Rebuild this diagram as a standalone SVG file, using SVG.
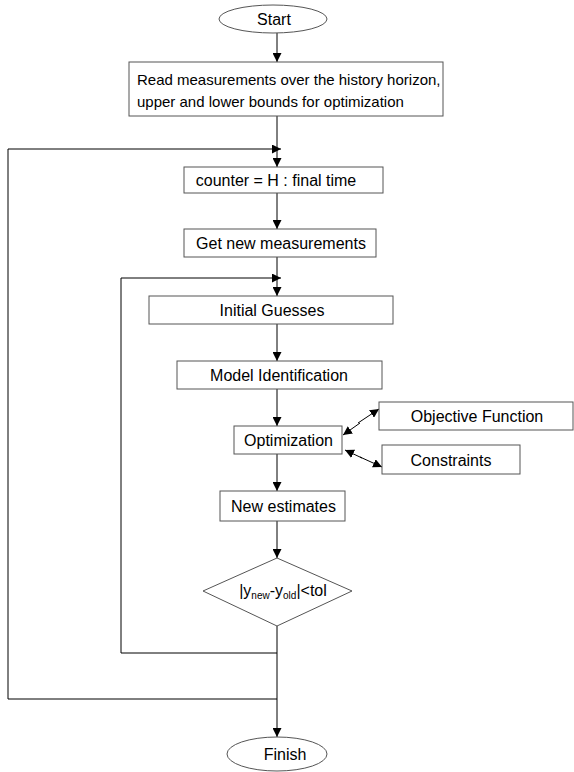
<svg xmlns="http://www.w3.org/2000/svg" width="574" height="772" viewBox="0 0 574 772">
<defs>
<style>
.box{fill:#fff;stroke:#555;stroke-width:1}
.ln{fill:none;stroke:#000;stroke-width:1}
.t{font-family:"Liberation Sans",Arial,sans-serif;font-size:16px;fill:#000;text-anchor:middle}
.tl{font-family:"Liberation Sans",Arial,sans-serif;font-size:15px;fill:#000}
</style>
<marker id="ah" viewBox="0 0 10 10" refX="10" refY="5" markerWidth="9" markerHeight="9" markerUnits="userSpaceOnUse" orient="auto">
<path d="M0,0 L10,5 L0,10 Z" fill="#000"/>
</marker>
</defs>
<rect width="574" height="772" fill="#fff"/>
<g id="connectors">
<line class="ln" x1="277" y1="33" x2="277" y2="62" marker-end="url(#ah)"/>
<line class="ln" x1="277" y1="116" x2="277" y2="167" marker-end="url(#ah)"/>
<polyline class="ln" points="277,699 8,699 8,149 281,149" marker-end="url(#ah)"/>
<line class="ln" x1="277" y1="193" x2="277" y2="229" marker-end="url(#ah)"/>
<line class="ln" x1="277" y1="257" x2="277" y2="296" marker-end="url(#ah)"/>
<polyline class="ln" points="277,653 121,653 121,278 281,278" marker-end="url(#ah)"/>
<line class="ln" x1="277" y1="324" x2="277" y2="361" marker-end="url(#ah)"/>
<line class="ln" x1="277" y1="389" x2="277" y2="426" marker-end="url(#ah)"/>
<line class="ln" x1="277" y1="454" x2="277" y2="491" marker-end="url(#ah)"/>
<line class="ln" x1="277" y1="521" x2="277" y2="558" marker-end="url(#ah)"/>
<line class="ln" x1="277" y1="626" x2="277" y2="737" marker-end="url(#ah)"/>
<line class="ln" x1="358" y1="423" x2="379" y2="409" marker-end="url(#ah)"/>
<line class="ln" x1="360" y1="423" x2="343" y2="435" marker-end="url(#ah)"/>
<line class="ln" x1="362" y1="458" x2="345" y2="450" marker-end="url(#ah)"/>
<line class="ln" x1="360" y1="457" x2="382" y2="467" marker-end="url(#ah)"/>
</g>
<g id="start">
<ellipse class="box" cx="273" cy="19" rx="54" ry="14"/>
<text class="t" x="274" y="25">Start</text>
</g>
<g id="read">
<rect class="box" x="129" y="62" width="314" height="54"/>
<text class="tl" x="137" y="85">Read measurements over the history horizon,</text>
<text class="tl" x="137" y="107">upper and lower bounds for optimization</text>
</g>
<g id="counter">
<rect class="box" x="184" y="167" width="199" height="26"/>
<text class="t" x="276" y="186">counter = H : final time</text>
</g>
<g id="getnew">
<rect class="box" x="184" y="229" width="192" height="28"/>
<text class="t" x="281" y="249">Get new measurements</text>
</g>
<g id="initial">
<rect class="box" x="149" y="296" width="244" height="28"/>
<text class="t" x="272" y="316">Initial Guesses</text>
</g>
<g id="model">
<rect class="box" x="177" y="361" width="205" height="28"/>
<text class="t" x="279" y="381">Model Identification</text>
</g>
<g id="optimization">
<rect class="box" x="234" y="426" width="108" height="28"/>
<text class="t" x="288.5" y="446">Optimization</text>
</g>
<g id="objective">
<rect class="box" x="379" y="402" width="194" height="28"/>
<text class="t" x="477" y="422">Objective Function</text>
</g>
<g id="constraints">
<rect class="box" x="382" y="445" width="138" height="29"/>
<text class="t" x="451" y="465.5">Constraints</text>
</g>
<g id="newest">
<rect class="box" x="220" y="491" width="125" height="30"/>
<text class="t" x="283.5" y="512">New estimates</text>
</g>
<g id="decision">
<polygon class="box" points="277,558 352,591 277,626 203,591"/>
<text class="t" x="283" y="596">|y<tspan font-size="10" dy="3">new</tspan><tspan dy="-3">-y</tspan><tspan font-size="10" dy="3">old</tspan><tspan dy="-3">|&lt;tol</tspan></text>
</g>
<g id="finish">
<ellipse class="box" cx="277" cy="754" rx="50" ry="17"/>
<text class="t" x="285" y="760">Finish</text>
</g>
</svg>
